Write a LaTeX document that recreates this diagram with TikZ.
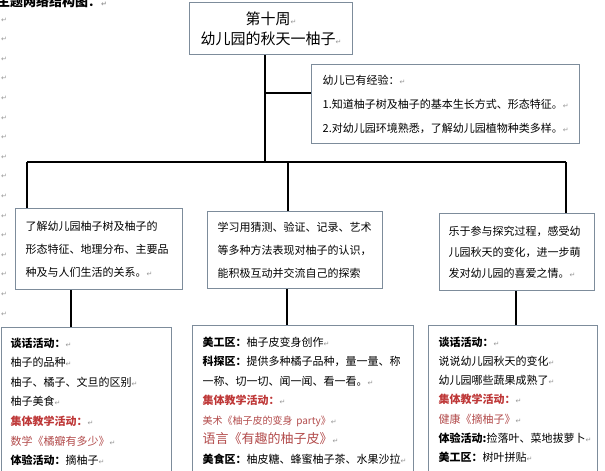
\documentclass[tikz,border=0pt]{standalone}
\usepackage{fontspec}
\setmainfont{Noto Sans CJK SC}
\newfontfamily\retfont{DejaVu Sans}
\usepackage{xcolor}
\usepackage{tikz}

\definecolor{boxline}{RGB}{125,140,155}
\definecolor{headred}{RGB}{190,55,55}
\definecolor{textred}{RGB}{178,75,75}
\definecolor{retgray}{RGB}{150,150,150}

\newcommand{\ret}{{\retfont\fontsize{7}{7}\selectfont\textcolor{retgray}{↵}}}
\newcommand{\acthead}[1]{\textbf{#1}}
\newcommand{\redhead}[1]{\textcolor{headred}{\textbf{#1}}}
\newcommand{\redtext}[1]{\textcolor{textred}{#1}}

\tikzset{
	box/.style		= {draw=boxline, line width=1.3pt, anchor=north west, align=left, inner ysep=0pt, font=\fontsize{11}{23}\selectfont},
	plan/.style		= {box, inner ysep=10pt, font=\fontsize{11}{19.6}\selectfont},
	trunk/.style	= {line width=2.8pt},
	twig/.style		= {line width=1.6pt}
}

\begin{document}
\begin{tikzpicture}[x=1pt, y=-1pt]
\useasboundingbox (0,0) rectangle (605,471);
\clip (0,0) rectangle (605,471);

% heading and empty paragraph marks down the left edge
\node[anchor=base west, inner sep=0pt, font=\fontsize{13}{13}\selectfont\bfseries]	(head) at (-3,6)	{主题网络结构图：\ret};
\foreach \k in {0,...,15}
	\node[inner sep=0pt]	(mk\k) at (4,20+19.6*\k)	{\ret};

% theme and prior experience
\node[box, align=center, inner xsep=0pt, minimum width=163pt, minimum height=52pt, font=\fontsize{15}{20}\selectfont]	(theme) at (189,2)	{第十周\ret\\幼儿园的秋天一柚子\ret};
\node[box, inner xsep=11pt, text width=246pt, minimum height=79pt, font=\fontsize{11}{24}\selectfont]	(exp) at (311,64)
	{幼儿已有经验：\ret\\1.知道柚子树及柚子的基本生长方式、形态特征。\ret\\2.对幼儿园环境熟悉，了解幼儿园植物种类多样。\ret};

% goals
\node[box, inner xsep=10pt, text width=147pt, minimum height=81pt]	(goalA) at (15,208)
	{了解幼儿园柚子树及柚子的\\形态特征、地理分布、主要品\\种及与人们生活的关系。\ret};
\node[box, inner xsep=10pt, text width=155pt, minimum height=77pt]	(goalB) at (207,211)
	{学习用猜测、验证、记录、艺术\\等多种方法表现对柚子的认识，\\能积极互动并交流自己的探索};
\node[box, inner xsep=9pt, text width=137pt, minimum height=77pt, font=\fontsize{11}{21}\selectfont]	(goalC) at (439,213)
	{乐于参与探究过程，感受幼\\儿园秋天的变化，进一步萌\\发对幼儿园的喜爱之情。\ret};

% activities
\node[plan, inner xsep=9pt, text width=152pt]	(planA) at (1,327)
	{\acthead{谈话活动：}\ret\\柚子的品种\ret\\柚子、橘子、文旦的区别\ret\\柚子美食\ret\\\redhead{集体教学活动：}\ret\\\redtext{数学《橘瓣有多少》}\ret\\\acthead{体验活动：}摘柚子\ret};
\node[plan, inner xsep=10pt, inner ysep=11pt, text width=201pt, font=\fontsize{11}{19.5}\selectfont]	(planB) at (192,325)
	{\acthead{美工区：}柚子皮变身创作\ret\\\acthead{科探区：}提供多种橘子品种，量一量、称\\一称、切一切、闻一闻、看一看。\ret\\\redhead{集体教学活动：}\ret\\{\fontsize{10}{19.5}\selectfont\redtext{美术《柚子皮的变身 party》}}\ret\\{\fontsize{13}{19.5}\selectfont\redtext{语言《有趣的柚子皮》}}\ret\\\acthead{美食区：}柚皮糖、蜂蜜柚子茶、水果沙拉\ret};
\node[plan, inner xsep=10pt, inner ysep=11pt, text width=149pt, font=\fontsize{11}{19.3}\selectfont]	(planC) at (428,325)
	{\acthead{谈话活动：}\ret\\说说幼儿园秋天的变化\ret\\幼儿园哪些蔬果成熟了\ret\\\redhead{集体教学活动：}\ret\\\redtext{健康《摘柚子》}\ret\\\acthead{体验活动:}捡落叶、菜地拔萝卜\ret\\\acthead{美工区：}树叶拼贴\ret};

% connectors
\coordinate	(hub)	at (265,162);
\coordinate	(knee)	at (265,93);
\coordinate	(lc)	at (27,162);
\coordinate	(mc)	at (288,162);
\coordinate	(rc)	at (566,162);
\coordinate	(ta)	at (71,0);
\coordinate	(tb)	at (287,0);
\coordinate	(tc)	at (516,0);

\draw[trunk]	(hub |- theme.south) -- (hub);
\draw[trunk]	(knee) -- (knee -| exp.west);
\draw[trunk]	(lc) -- (rc);
\draw[trunk]	(lc) -- (lc |- goalA.north);
\draw[trunk]	(mc) -- (mc |- goalB.north);
\draw[trunk]	(rc) -- (rc |- goalC.north);
\draw[twig]		(goalA.south -| ta) -- (planA.north -| ta);
\draw[twig]		(goalB.south -| tb) -- (planB.north -| tb);
\draw[twig]		(goalC.south -| tc) -- (planC.north -| tc);
\end{tikzpicture}
\end{document}
